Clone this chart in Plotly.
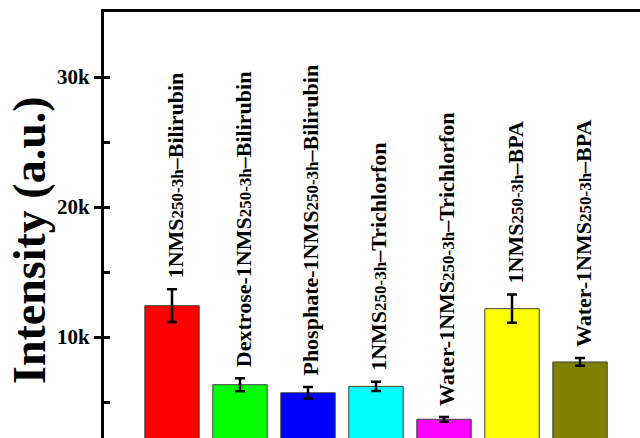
import plotly.graph_objects as go

# Samples, in plotting order
SUB = '<span style="font-size:17px">250-3h</span>'
samples = [
    "1NMS" + SUB + "–Bilirubin",
    "Dextrose-1NMS" + SUB + "–Bilirubin",
    "Phosphate-1NMS" + SUB + "–Bilirubin",
    "1NMS" + SUB + "–Trichlorfon",
    "Water-1NMS" + SUB + "–Trichlorfon",
    "1NMS" + SUB + "–BPA",
    "Water-1NMS" + SUB + "–BPA",
]
positions = [1, 2, 3, 4, 5, 6, 7]
intensity = [12410, 6330, 5710, 6200, 3670, 12180, 8080]
errors = [1260, 500, 440, 350, 180, 1090, 300]
colors = ["#FF0000", "#00FF00", "#0000FF", "#00FFFF", "#FF00FF", "#FFFF00", "#808000"]

major_ticks = [10000, 20000, 30000]
major_text = ["10k", "20k", "30k"]
all_ticks = [5000, 10000, 15000, 20000, 25000, 30000]

y_range = [2231, 35000]
x_range = [0, 7.882]

FONT = "Liberation Serif"

fig = go.Figure()
fig.add_trace(go.Bar(
    x=positions,
    y=intensity,
    width=0.8,
    marker=dict(color=colors, line=dict(color="#404040", width=1)),
    error_y=dict(type="data", array=errors, color="black", thickness=2.5, width=5),
    showlegend=False,
    hoverinfo="skip",
))
# empty trace carrying the inner tick axis
fig.add_trace(go.Scatter(x=[], y=[], yaxis="y2", showlegend=False, hoverinfo="skip"))

for xp, val, err, label in zip(positions, intensity, errors, samples):
    fig.add_annotation(
        x=xp, y=val + err, text=label, textangle=-90,
        showarrow=False, xanchor="center", yanchor="bottom",
        yshift=9, xshift=3,
        font=dict(family=FONT, size=22, color="black", weight="bold"),
    )

fig.add_annotation(
    xref="paper", yref="paper", x=-0.138, y=0.465,
    text="Intensity (a.u.)", textangle=-90, showarrow=False,
    xanchor="center", yanchor="middle",
    font=dict(family=FONT, size=46, color="black", weight="bold"),
)

fig.update_layout(
    width=640, height=438,
    margin=dict(l=104, r=0, t=12, b=0, autoexpand=False),
    paper_bgcolor="white", plot_bgcolor="white",
    font=dict(family=FONT, color="black"),
    xaxis=dict(
        range=x_range, side="top", showline=True, linecolor="black", linewidth=3,
        showticklabels=False, ticks="", showgrid=False, zeroline=False,
    ),
    yaxis=dict(
        range=y_range, showline=True, linecolor="black", linewidth=3,
        tickmode="array", tickvals=major_ticks, ticktext=major_text,
        ticks="outside", ticklen=7, tickwidth=2.5, tickcolor="black",
        tickfont=dict(family=FONT, size=21, color="black", weight="bold"),
        showgrid=False, zeroline=False,
    ),
    yaxis2=dict(
        range=y_range, overlaying="y", side="left", anchor="x",
        tickmode="array", tickvals=all_ticks,
        ticks="inside", ticklen=6, tickwidth=2.5, tickcolor="black",
        showticklabels=False, showgrid=False, zeroline=False, showline=False,
    ),
)

fig.write_html("out.html")
